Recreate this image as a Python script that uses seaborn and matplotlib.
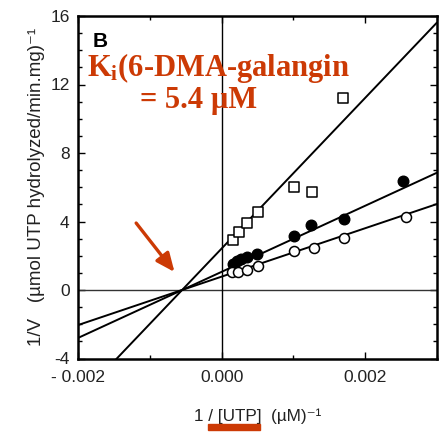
import numpy as np
import pandas as pd
import matplotlib
matplotlib.use("Agg")
import matplotlib.pyplot as plt
from matplotlib.ticker import MultipleLocator, FuncFormatter
from matplotlib.patches import Rectangle
import seaborn as sns

# ---------------- data ----------------
sq_x = [0.000163, 0.000244, 0.000349, 0.000513, 0.001015, 0.001257, 0.00169]
sq_y = [2.92, 3.36, 3.91, 4.57, 6.00, 5.72, 11.19]

fc_x = [0.000163, 0.00021, 0.00027, 0.00035, 0.00049, 0.001015, 0.00125, 0.00170, 0.00253]
fc_y = [1.49, 1.69, 1.80, 1.90, 2.10, 3.15, 3.79, 4.17, 6.36]

oc_x = [0.00014, 0.00023, 0.00035, 0.00051, 0.001015, 0.00128, 0.00171, 0.00257]
oc_y = [1.07, 1.07, 1.15, 1.40, 2.29, 2.47, 3.05, 4.24]

series = ["squares", "filled", "open"]
slopes = [4400.0, 1930.0, 1414.0]
intercepts = [2.42, 1.06, 0.78]

xlim = (-0.002, 0.003)
ylim = (-4, 16)

RED = "#CC3A05"

# ---------------- style ----------------
sns.set_theme(style="ticks")
plt.rcParams["font.family"] = ["Liberation Sans", "DejaVu Sans"]
plt.rcParams["mathtext.fontset"] = "custom"
plt.rcParams["mathtext.rm"] = "Liberation Serif"
plt.rcParams["mathtext.bf"] = "Liberation Serif:bold"

fig = plt.figure(figsize=(4.48, 4.32), dpi=100)
ax = fig.add_axes([78 / 448, 1 - 358.5 / 432, (437 - 78) / 448, (358.5 - 16) / 432])

# fitted lines
line_rows = []
for s, m, b in zip(series, slopes, intercepts):
    for xv in np.linspace(xlim[0], xlim[1], 2):
        line_rows.append({"series": s, "x": xv, "y": m * xv + b})
lines_df = pd.DataFrame(line_rows)
sns.lineplot(data=lines_df, x="x", y="y", units="series", estimator=None,
             color="black", lw=1.4, ax=ax, legend=False)

ax.axhline(0, color="#333333", lw=1.0, zorder=1)
ax.axvline(0, color="black", lw=1.0, zorder=1)

# points
sns.scatterplot(x=sq_x, y=sq_y, marker="s", s=58, facecolor="white",
                edgecolor="black", linewidth=1.1, ax=ax, zorder=3)
sns.scatterplot(x=fc_x, y=fc_y, marker="o", s=58, color="black",
                edgecolor="black", linewidth=1.0, ax=ax, zorder=3)
sns.scatterplot(x=oc_x, y=oc_y, marker="o", s=52, facecolor="white",
                edgecolor="black", linewidth=1.1, ax=ax, zorder=3)

ax.set_xlim(*xlim)
ax.set_ylim(*ylim)

ax.xaxis.set_major_locator(MultipleLocator(0.002))
ax.xaxis.set_minor_locator(MultipleLocator(0.001))
ax.yaxis.set_major_locator(MultipleLocator(4))
ax.yaxis.set_minor_locator(MultipleLocator(1))


def xfmt(v, pos):
    if v < -1e-9:
        return "- %.3f" % abs(v)
    return "%.3f" % abs(v)


ax.xaxis.set_major_formatter(FuncFormatter(xfmt))
ax.yaxis.set_major_formatter(FuncFormatter(lambda v, p: "%d" % v))

ax.tick_params(which="both", direction="in", top=True, right=True,
               colors="black", labelcolor="#222222", width=1.0)
ax.tick_params(which="major", length=5, labelsize=12.5)
ax.tick_params(axis="x", which="major", pad=8)
ax.tick_params(axis="y", which="major", pad=6)
ax.tick_params(which="minor", length=3)
for sp in ax.spines.values():
    sp.set_linewidth(1.8)
    sp.set_color("black")

ax.set_xlabel("1 / [UTP]  (\u00b5M)\u207b\u00b9", fontsize=12.3, color="#222222", labelpad=17)
ax.set_ylabel("1/V   (\u00b5mol UTP hydrolyzed/min.mg)\u207b\u00b9", fontsize=13.5,
              color="#222222", labelpad=4)

# annotations
fig.text(93 / 448, 1 - 47 / 432, "B", fontsize=15, fontweight="bold",
         color="black", va="baseline", ha="left")
fig.text(87 / 448, 1 - 76 / 432, r"K$\mathbf{_i}$(6-DMA-galangin", fontsize=22,
         fontweight="bold", family="Liberation Serif", color=RED,
         va="baseline", ha="left")
fig.text(140 / 448, 1 - 108 / 432, "= 5.4 \u00b5M", fontsize=22,
         fontweight="bold", family="Liberation Serif", color=RED,
         va="baseline", ha="left")

ax.annotate("", xy=(-0.000656, 1.05), xytext=(-0.00119, 3.91),
            arrowprops=dict(arrowstyle="-|>,head_length=0.8,head_width=0.35",
                            color=RED, lw=2.4,
                            mutation_scale=14, shrinkA=0, shrinkB=0))

fig.patches.append(Rectangle((208 / 448, 1 - 430 / 432), 52 / 448, 6 / 432,
                             transform=fig.transFigure, color=RED, zorder=5))

fig.savefig("out.png", dpi=100)
